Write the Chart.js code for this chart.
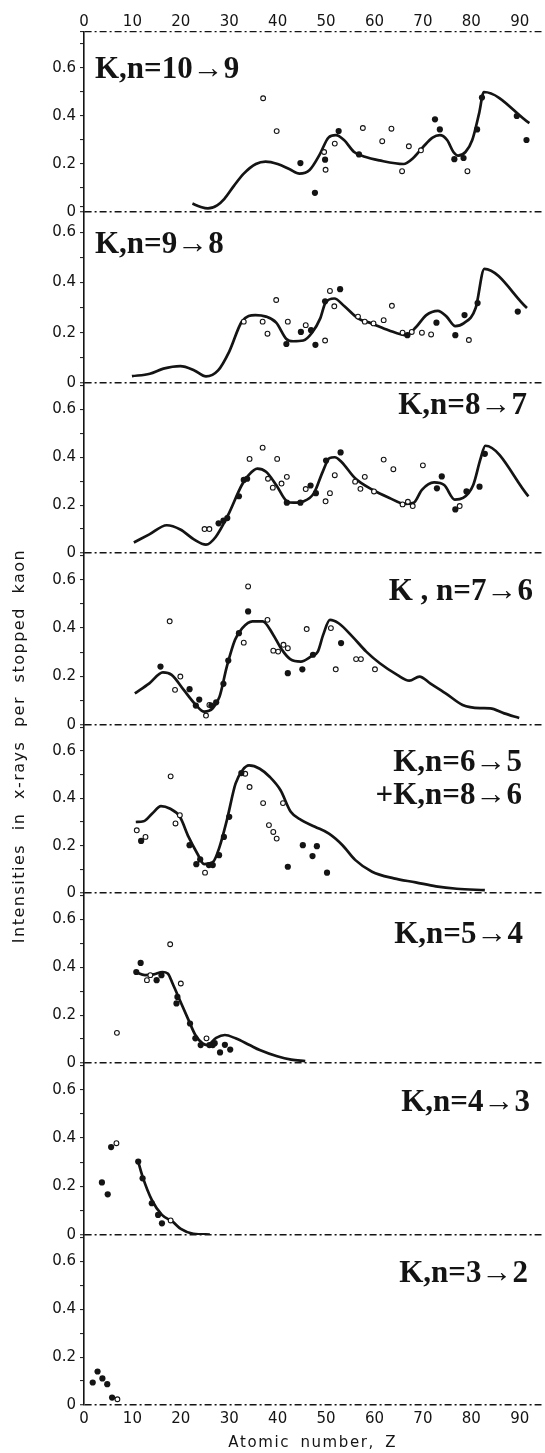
<!DOCTYPE html>
<html><head><meta charset="utf-8">
<script src="https://cdn.jsdelivr.net/npm/chart.js@4.4.1/dist/chart.umd.min.js"></script>
<style>html,body{margin:0;padding:0;background:#fff;}canvas{display:block;}</style>
</head><body>
<canvas id="c" width="545" height="1453"></canvas>
<script>
// ---- tick labels / text ----
const xTicks = [0, 10, 20, 30, 40, 50, 60, 70, 80, 90];
const yTicks = [0, 0.1, 0.2, 0.3, 0.4, 0.5, 0.6, 0.7];
const xTitle = 'Atomic number, Z';
const yTitle = 'Intensities in x-rays per stopped kaon';
const panelLabels = [['K,n=10→9'], ['K,n=9→8'], ['K,n=8→7'], ['K , n=7→6'],
  ['K,n=6→5', '+K,n=8→6'], ['K,n=5→4'], ['K,n=4→3'], ['K,n=3→2']];

// ---- data: [Z, intensity] ----
const curve_10_9 = [[22.4,0.035],[24,0.022],[25.6,0.015],[27.5,0.028],[29,0.055],[31,0.11],[33,0.16],[35.5,0.2],[37.5,0.21],[40,0.2],[42.5,0.178],[44.5,0.16],[46.6,0.175],[48.7,0.24],[50.5,0.31],[52,0.32],[53.7,0.3],[55.8,0.25],[58,0.23],[61,0.215],[66,0.2],[68,0.225],[70,0.27],[72,0.31],[73.5,0.32],[75,0.3],[76.3,0.25],[77.3,0.235],[78.8,0.25],[80.2,0.3],[81.6,0.41],[82.6,0.5],[92,0.37]];
const filled_10_9 = [[44.7,0.204],[47.7,0.08],[49.8,0.218],[52.6,0.337],[56.8,0.24],[72.5,0.386],[73.5,0.344],[76.5,0.22],[78.4,0.225],[81.2,0.344],[82.2,0.477],[89.4,0.4],[91.4,0.3]];
const open_10_9 = [[37,0.474],[39.8,0.337],[49.6,0.25],[49.9,0.176],[51.8,0.285],[57.6,0.35],[61.6,0.295],[63.5,0.347],[65.7,0.17],[67.1,0.274],[69.6,0.257],[79.2,0.17]];

const curve_9_8 = [[9.9,0.027],[13.6,0.037],[16.4,0.057],[19.9,0.067],[22.8,0.05],[25.2,0.026],[27.7,0.05],[30,0.125],[32.6,0.244],[35.4,0.27],[37.6,0.264],[39.7,0.24],[41.8,0.175],[43.2,0.166],[45.3,0.169],[47.1,0.2],[48.8,0.257],[49.9,0.32],[51.7,0.336],[53.8,0.305],[56.6,0.257],[59.4,0.237],[62.9,0.21],[66.5,0.19],[68.6,0.223],[70.7,0.27],[73.1,0.287],[74.9,0.264],[76.7,0.226],[78.4,0.237],[80.9,0.298],[82.7,0.454],[91.5,0.298]];
const filled_9_8 = [[41.8,0.155],[44.8,0.203],[46.9,0.21],[47.8,0.152],[49.8,0.325],[52.9,0.373],[66.8,0.19],[72.8,0.24],[76.7,0.19],[78.6,0.27],[81.3,0.318],[89.6,0.284]];
const open_9_8 = [[33,0.244],[36.9,0.244],[37.9,0.196],[39.7,0.33],[42.1,0.244],[45.8,0.23],[49.8,0.169],[50.8,0.366],[51.7,0.305],[56.6,0.264],[58,0.244],[59.8,0.237],[61.9,0.25],[63.6,0.307],[65.8,0.2],[67.7,0.203],[69.8,0.2],[71.7,0.193],[79.5,0.171]];

const curve_8_7 = [[10.3,0.044],[13.5,0.078],[17.1,0.116],[19.9,0.098],[22.7,0.057],[25.2,0.035],[27.2,0.067],[29.8,0.16],[32.6,0.284],[34,0.325],[35.8,0.352],[37.6,0.339],[39.7,0.284],[41.9,0.216],[43.3,0.21],[45.4,0.216],[47.5,0.25],[49.3,0.339],[50.7,0.396],[51.8,0.4],[53.2,0.38],[56,0.312],[59.6,0.264],[63.1,0.23],[66.3,0.205],[68.1,0.21],[69.8,0.264],[72.3,0.295],[74.4,0.284],[76.6,0.223],[78.3,0.23],[80.4,0.284],[81.9,0.393],[82.9,0.448],[91.8,0.237]];
const filled_8_7 = [[27.8,0.124],[28.8,0.135],[29.6,0.146],[32,0.237],[33,0.305],[33.7,0.31],[41.9,0.21],[44.7,0.21],[46.8,0.282],[47.9,0.25],[50,0.386],[53,0.42],[72.9,0.27],[73.9,0.32],[76.7,0.182],[79,0.257],[81.7,0.277],[82.8,0.414]];
const open_8_7 = [[24.9,0.1],[25.9,0.1],[34.2,0.393],[36.9,0.44],[38,0.31],[39,0.273],[39.9,0.393],[40.8,0.29],[41.9,0.318],[45.8,0.267],[49.9,0.216],[50.8,0.25],[51.8,0.325],[56,0.298],[57.1,0.268],[58,0.318],[59.9,0.257],[61.9,0.39],[63.9,0.35],[65.8,0.203],[66.9,0.214],[67.9,0.196],[70,0.366],[77.6,0.196]];

const curve_7_6 = [[10.5,0.131],[13.5,0.172],[16.3,0.217],[18.1,0.207],[20.6,0.145],[23.1,0.083],[24.8,0.055],[26.6,0.069],[28,0.117],[29.5,0.241],[31.2,0.352],[32.7,0.4],[34.8,0.428],[36.9,0.428],[39.1,0.372],[40.9,0.31],[42.6,0.272],[44.8,0.262],[46.9,0.283],[48.3,0.303],[49.4,0.372],[50.8,0.434],[52.6,0.42],[55.4,0.366],[58.3,0.303],[61.1,0.255],[64.7,0.207],[67.2,0.183],[69.3,0.2],[71.5,0.172],[74.7,0.131],[78.2,0.083],[81.8,0.07],[83.9,0.069],[86.8,0.048],[89.9,0.029]];
const filled_7_6 = [[15.8,0.241],[21.8,0.148],[23.1,0.08],[23.8,0.105],[26.3,0.08],[27.3,0.094],[28.8,0.17],[29.8,0.266],[32,0.379],[33.9,0.469],[42.1,0.214],[45.1,0.23],[47.3,0.29],[53.1,0.338]];
const open_7_6 = [[17.7,0.428],[18.8,0.145],[19.9,0.2],[25.2,0.039],[25.9,0.083],[33,0.34],[33.9,0.572],[37.9,0.434],[39.1,0.307],[40.1,0.303],[41.2,0.331],[42.1,0.317],[46,0.396],[51,0.4],[52,0.23],[56.2,0.272],[57.2,0.272],[60.1,0.23]];

const curve_6_5 = [[10.7,0.3],[12.3,0.303],[14.1,0.336],[15.9,0.367],[17.7,0.357],[19.8,0.322],[21.6,0.237],[23.4,0.167],[24.8,0.122],[26.6,0.13],[28,0.195],[29.5,0.307],[31.3,0.462],[32.7,0.518],[34.1,0.539],[36.3,0.525],[38.4,0.49],[40.6,0.434],[42.7,0.343],[44.9,0.308],[47.7,0.28],[50.6,0.251],[53.4,0.202],[56,0.14],[59.5,0.09],[64,0.062],[68.5,0.045],[72.7,0.028],[77,0.018],[82.8,0.012]];
const filled_6_5 = [[11.8,0.22],[21.8,0.202],[23.2,0.122],[24,0.142],[25.8,0.118],[26.6,0.118],[27.9,0.16],[28.9,0.237],[30,0.322],[32.5,0.507],[42.1,0.111],[45.2,0.202],[47.2,0.156],[48.1,0.198],[50.2,0.086]];
const open_6_5 = [[10.9,0.265],[12.7,0.237],[17.9,0.493],[18.9,0.294],[19.8,0.329],[25,0.086],[33.3,0.504],[34.2,0.448],[37,0.38],[38.2,0.287],[39.1,0.258],[39.8,0.23],[41.1,0.38]];

const curve_5_4 = [[10.6,0.38],[12.6,0.367],[14.4,0.37],[16.2,0.38],[17.3,0.374],[18.3,0.332],[19.8,0.262],[21.6,0.179],[23,0.117],[24.5,0.082],[25.5,0.075],[27.3,0.105],[29.1,0.117],[31.3,0.103],[34.2,0.075],[36.3,0.054],[39.9,0.028],[42.8,0.014],[45.7,0.008]];
const filled_5_4 = [[10.8,0.38],[11.7,0.418],[15,0.346],[16,0.367],[19.1,0.249],[19.3,0.276],[21.9,0.165],[23,0.103],[24.1,0.075],[25.9,0.075],[26.6,0.075],[27,0.083],[28.1,0.044],[29.1,0.076],[30.2,0.056]];
const open_5_4 = [[6.8,0.126],[13,0.346],[13.7,0.367],[17.8,0.496],[20,0.332],[25.3,0.103]];

const curve_4_3 = [[11.1,0.31],[12.1,0.241],[14,0.145],[16.1,0.083],[18.3,0.055],[20,0.025],[22.6,0.005],[26,0.002]];
const filled_4_3 = [[3.7,0.217],[4.9,0.168],[5.6,0.363],[11.2,0.303],[12.1,0.234],[14,0.131],[15.3,0.083],[16.1,0.048]];
const open_4_3 = [[6.7,0.379],[17.9,0.06]];

const curve_3_2 = [];
const filled_3_2 = [[1.8,0.094],[2.8,0.14],[3.8,0.111],[4.8,0.087],[5.8,0.031]];
const open_3_2 = [[6.9,0.024]];

// ---- panel table (built from the arrays above) ----
const panels = [
  {curve: curve_10_9, filled: filled_10_9, open: open_10_9, max: 0.75, h: 180, lx: 95, align: 'left', dy: [46]},
  {curve: curve_9_8, filled: filled_9_8, open: open_9_8, max: 0.68, h: 171, lx: 95, align: 'left', dy: [41]},
  {curve: curve_8_7, filled: filled_8_7, open: open_8_7, max: 0.71, h: 170, lx: 527, align: 'right', dy: [31]},
  {curve: curve_7_6, filled: filled_7_6, open: open_7_6, max: 0.71, h: 172, lx: 533, align: 'right', dy: [47]},
  {curve: curve_6_5, filled: filled_6_5, open: open_6_5, max: 0.71, h: 168, lx: 522, align: 'right', dy: [46, 79]},
  {curve: curve_5_4, filled: filled_5_4, open: open_5_4, max: 0.71, h: 170, lx: 523, align: 'right', dy: [50]},
  {curve: curve_4_3, filled: filled_4_3, open: open_4_3, max: 0.71, h: 172, lx: 530, align: 'right', dy: [48]},
  {curve: curve_3_2, filled: filled_3_2, open: open_3_2, max: 0.71, h: 170, lx: 528, align: 'right', dy: [47]}
];

const toXY = arr => arr.map(([x, y]) => ({x, y}));
const INK = '#141414';
const tickFont = {family: '"DejaVu Sans", sans-serif', size: 15};

const datasets = [];
const scales = {
  x: {
    type: 'linear', position: 'bottom', min: 0, max: 94.5,
    afterBuildTicks: s => { s.ticks = xTicks.map(v => ({value: v})); },
    afterFit: s => { s.height = 48; },
    grid: {display: false, drawTicks: false},
    border: {display: false},
    ticks: {color: INK, font: tickFont, padding: 5, autoSkip: false, maxRotation: 0}
  },
  xTop: {
    type: 'linear', position: 'top', min: 0, max: 94.5,
    afterBuildTicks: s => { s.ticks = xTicks.map(v => ({value: v})); },
    afterFit: s => { s.height = 32; },
    grid: {display: false, drawTicks: false},
    border: {display: false},
    ticks: {color: INK, font: tickFont, padding: 1, autoSkip: false, maxRotation: 0}
  }
};

panels.forEach((p, i) => {
  const id = 'y' + (i + 1);
  const tv = i === 0 ? yTicks.concat([p.max]) : yTicks;
  scales[id] = {
    type: 'linear', position: 'left', stack: 'panels', stackWeight: p.h, weight: 10 - i,
    min: 0, max: p.max,
    afterBuildTicks: s => { s.ticks = tv.map(v => ({value: v})); },
    afterFit: s => { s.width = 84; },
    border: {display: true, color: INK, width: 1.6, dash: [7, 3, 2, 3]},
    grid: {
      drawOnChartArea: true, drawTicks: true, tickLength: 4, tickWidth: 1, tickColor: INK,
      color: c => (c.tick && (c.tick.value === 0 || (i === 0 && c.tick.value === p.max))) ? INK : 'rgba(0,0,0,0)',
      lineWidth: c => (c.tick && c.tick.value === 0) ? 1.5 : 1.2
    },
    ticks: {
      color: INK, font: tickFont, padding: 4, autoSkip: false,
      callback: v => {
        const r = Math.round(v * 10);
        if (Math.abs(v * 10 - r) > 1e-6 || r % 2 !== 0 || r > 6) return '';
        return r === 0 ? '0' : (r / 10).toFixed(1);
      }
    }
  };
  datasets.push({
    label: id + ' filled', data: toXY(p.filled), xAxisID: 'x', yAxisID: id, showLine: false,
    pointRadius: 3.1, pointBackgroundColor: INK, pointBorderWidth: 0, pointHoverRadius: 3.1
  });
  datasets.push({
    label: id + ' open', data: toXY(p.open), xAxisID: 'x', yAxisID: id, showLine: false,
    pointRadius: 2.4, pointBackgroundColor: '#fff', pointBorderColor: INK, pointBorderWidth: 1.1, pointHoverRadius: 2.4
  });
  datasets.push({
    label: id + ' curve', data: toXY(p.curve), xAxisID: 'x', yAxisID: id, showLine: true,
    borderColor: INK, borderWidth: 2.7, pointRadius: 0, pointHoverRadius: 0,
    cubicInterpolationMode: 'monotone', fill: false
  });
});

const textPlugin = {
  id: 'panelText',
  afterDraw(chart) {
    const ctx = chart.ctx;
    const area = chart.chartArea;
    ctx.save();
    ctx.fillStyle = INK;
    ctx.font = 'bold 31px "Liberation Serif", "DejaVu Serif", serif';
    ctx.textBaseline = 'alphabetic';
    panels.forEach((p, i) => {
      const s = chart.scales['y' + (i + 1)];
      ctx.textAlign = p.align;
      panelLabels[i].forEach((t, j) => ctx.fillText(t, p.lx, s.top + p.dy[j]));
    });
    // bottom axis title
    ctx.font = '15px "DejaVu Sans", sans-serif';
    if ('letterSpacing' in ctx) ctx.letterSpacing = '1.6px';
    if ('wordSpacing' in ctx) ctx.wordSpacing = '4px';
    ctx.textAlign = 'center';
    ctx.textBaseline = 'middle';
    ctx.fillText(xTitle, (area.left + area.right) / 2, 1443);
    // left axis title
    ctx.translate(20, 746);
    ctx.rotate(-Math.PI / 2);
    ctx.font = '16px "DejaVu Sans", sans-serif';
    if ('letterSpacing' in ctx) ctx.letterSpacing = '1.5px';
    if ('wordSpacing' in ctx) ctx.wordSpacing = '7px';
    ctx.fillText(yTitle, 0, 0);
    ctx.restore();
  }
};

new Chart(document.getElementById('c'), {
  type: 'scatter',
  data: {datasets},
  options: {
    responsive: false, animation: false, devicePixelRatio: 1,
    layout: {padding: 0},
    plugins: {legend: {display: false}, tooltip: {enabled: false}},
    scales
  },
  plugins: [textPlugin]
});
</script>
</body></html>
